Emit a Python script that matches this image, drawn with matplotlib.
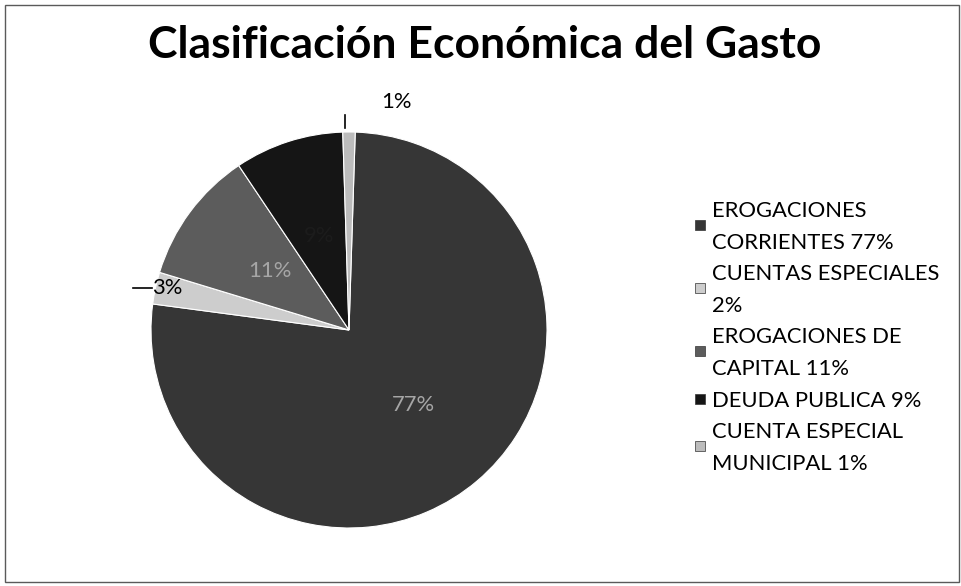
import matplotlib
matplotlib.use('Agg')
import matplotlib.pyplot as plt
from matplotlib.patches import Rectangle
from matplotlib.lines import Line2D
import numpy as np

# ---- data ----
categories = ["EROGACIONES CORRIENTES", "CUENTAS ESPECIALES", "EROGACIONES DE CAPITAL",
              "DEUDA PUBLICA", "CUENTA ESPECIAL MUNICIPAL"]
legend_labels = ["EROGACIONES\nCORRIENTES 77%", "CUENTAS ESPECIALES\n2%", "EROGACIONES DE\nCAPITAL 11%",
                 "DEUDA PUBLICA 9%", "CUENTA ESPECIAL\nMUNICIPAL 1%"]
values = [76.6, 2.6, 10.9, 8.9, 1.0]
title = "Clasificación Económica del Gasto"

# ---- style ----
colors = ['#363636', '#cdcdcd', '#5c5c5c', '#151515', '#bcbcbc']
label_colors = ['#a6a6a6', '#000000', '#a6a6a6', '#1c1c1c', '#000000']
FONT = 'Lato'

W, H = 962, 586
fig = plt.figure(figsize=(W / 100, H / 100), dpi=100)
fig.patch.set_facecolor('white')

# outer frame
fig.patches.append(Rectangle((5 / W, (H - 582) / H), 954 / W, 577 / H, transform=fig.transFigure,
                             fill=False, edgecolor='#5a5a5a', linewidth=1.0))

# title
fig.text(485 / W, (H - 58) / H, title, ha='center', va='baseline',
         fontsize=32, fontweight='bold', family=FONT, color='#000000')

# pie
cx, cy, r = 349, 330, 198
ax = fig.add_axes([(cx - r) / W, (H - cy - r) / H, 2 * r / W, 2 * r / H])
wedges, _ = ax.pie(values, colors=colors, startangle=88.2, counterclock=False, radius=1,
                   wedgeprops=dict(edgecolor='white', linewidth=0.8))
ax.set_xlim(-1, 1)
ax.set_ylim(-1, 1)
ax.set_aspect('equal')
ax.axis('off')

total = float(sum(values))
pcts = [f"{round(v / total * 100):.0f}%" for v in values]
lab_fs = 15.8
for i, w in enumerate(wedges):
    mid = np.deg2rad((w.theta1 + w.theta2) / 2)
    ux, uy = np.cos(mid), np.sin(mid)
    if i == 1:
        y = uy
        ax.add_line(Line2D([-1.09, -0.995], [y, y], color='black', lw=1.2, clip_on=False))
        ax.text(-0.995, y, pcts[i], ha='left', va='center', fontsize=lab_fs, family=FONT,
                color=label_colors[i])
    elif i == 4:
        x0 = ux * 1.0
        ax.add_line(Line2D([x0 - 0.02, x0 - 0.02], [1.02, 1.085], color='black', lw=1.2, clip_on=False))
        ax.text(x0 + 0.24, 1.15, pcts[i], ha='center', va='center', fontsize=lab_fs, family=FONT,
                color=label_colors[i])
    else:
        ax.text(0.5 * ux, 0.5 * uy, pcts[i], ha='center', va='center', fontsize=lab_fs,
                family=FONT, color=label_colors[i])

# legend (manual, Excel-like)
pitch = 31.6
first_base = 217
leg_fs = 15.8
line_idx = 0
for lab, col in zip(legend_labels, colors):
    lines = lab.split('\n')
    ys = []
    for ln in lines:
        base = first_base + pitch * line_idx
        fig.text(712 / W, (H - base) / H, ln, ha='left', va='baseline', fontsize=leg_fs,
                 family=FONT, color='#000000')
        ys.append(base - 8)
        line_idx += 1
    ym = np.mean(ys)
    s = 10
    fig.patches.append(Rectangle(((700 - s / 2) / W, (H - ym - s / 2) / H), s / W, s / H,
                                 transform=fig.transFigure, facecolor=col, edgecolor='#333333',
                                 linewidth=0.5))

fig.savefig('out.png', dpi=100, facecolor='white')
